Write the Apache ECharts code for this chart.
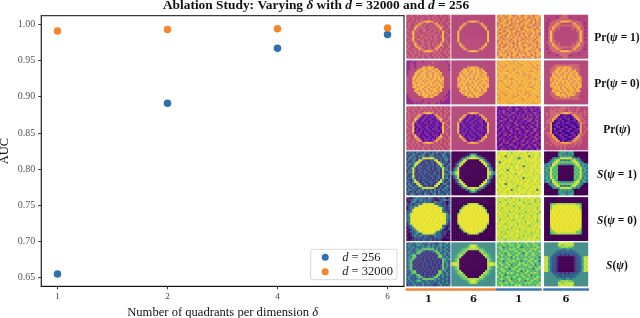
<!DOCTYPE html>
<html>
<head>
<meta charset="utf-8">
<style>html,body{margin:0;padding:0;background:#fff}#c{width:640px;height:318px}</style>
<script src="https://cdn.jsdelivr.net/npm/echarts@6/dist/echarts.min.js"></script>
</head>
<body>
<div id="c"></div>
<script>
const categories = ['1', '2', '4', '6'];
const xPositions = [0, 1, 2, 3];
const d256 = [0.655, 0.891, 0.967, 0.986];
const d32000 = [0.991, 0.993, 0.994, 0.995];
const yTicks = [0.65, 0.70, 0.75, 0.80, 0.85, 0.90, 0.95, 1.00];
const columnLabels = ['1', '6', '1', '6'];
const columnColors = ['#f0853a', '#f0853a', '#3f78b0', '#3f78b0'];

// Each panel: 22 rows of 22 colour levels (0-9).
const prOne = [
 `4454454544544454454445 4545444454454545444545 5445454544454454545444 4454454567887645445445 4544547654544567454454 4544576545445456745445
  4544864554454545685445 5445745455445454574454 4548454455454454548544 4458545444545544548454 5448454554454455458445 4548544545545454458454
  4458455454545455448544 4547544554454454458454 5445754454554545474454 4544864554454545685445 4544576545454456745445 5445447654455467454454
  4544545467887645454545 4454545445454454544545 5445445454544545454454 4545454454454454545445`,
 `4444444444444444444444 4444444444444444444444 4444444444444444444444 4444444467887644444444 4444447644444467444444 4444476444444446744444
  4444864444444444684444 4444744444444444474444 4448444444444444448444 4448444444444444448444 4448444444444444448444 4448444444444444448444
  4448444444444444448444 4448444444444444448444 4444744444444444474444 4444864444444444684444 4444476444444446744444 4444447644444467444444
  4444444467887644444444 4444444444444444444444 4444444444444444444444 4444444444444444444444`,
 `7685768756786587685768 6768578768576786576786 8576867586768576867586 7668758676875768758676 5787668576758687668576 6758785676868576785676
  7867567858675786567858 8576786576785678786576 6785678687567867678687 7568758675867586758675 6876587676758678587676 8657686858676857686858
  7685767587686576767587 5768685768576868685768 6857768657687576768657 7586576867586787576867 8675786758678567786758 6587867685768678867685
  7768576786857687576786 5876768578676758768578 6787857687587867857687 8658678576768576678576`,
 `4444444445554444444444 4444443455554344444444 4434445555555544434444 4444555578887655554444 4345557654444467555434 4445576555555556755444
  4355865544444455685534 4455754544444454575544 4358554444444444558534 4458544444444444458544 4358544444444444458534 4458544444444444458544
  4358544444444444458534 4458554444444444558544 4455754544444454575544 4355865544444455685534 4445576555555556755444 4345557654444467555434
  4444555578887655554444 4434445555555544434444 4444443455554344444444 4444444445554444444444`
];
const prZero = [
 `3334344434444444444434 3343344444444544444444 3344344444454444444443 3344344477687744444444 3344446787687678444443 3444478678767876844444
  3444786787687678684444 3444876878678687764444 4447868778678687867444 4448678687876786878444 4447687867687867686444 4448768786878678767444
  4446878678768786876444 4447867886786768687444 4444687867868786784444 4444876786876787684443 4444478687687867644443 3444447687867687444433
  3444444468768744444343 3344444444444444444433 3334444434444444434333 3333434344434443433333`,
 `4444444444444444444444 4444444444444444444444 4444444444444444444444 4444444476877644444444 4444448768786867444444 4444487867687867844444
  4444768786786876784444 4444876867867867864444 4446787687868786786444 4448678786768678787444 4447686878786876867444 4446878768678768786444
  4448768676878687678444 4446787868687868687444 4444687867867876874444 4444876786876786784444 4444487867687867644444 4444446878768786444444
  4444444476867844444444 4444444444444444444444 4444444444444444444444 4444444444444444444444`,
 `7878777867787787787877 7787887778778878778788 8778678787876787877867 7867787878687878786778 7787878767878787878767 8778767878787787767878
  7878887787678778788778 7787778878878677778878 7878678787787878678787 8787787678878787787678 7768878787787787878787 7877878678787878678787
  8787787787867787787787 7878767878778787767878 7787887787787878887787 8778778878777877778878 7867787878787867787887 7787678778678778678778
  8778787867787887787867 7687878778877687878778 7878777887787778787887 8787877778878787877778`,
 `4444444444444444444444 4444444444444444444444 4444455555555555554444 4444556776877655544444 4445557867867856554444 4445578678768678554444
  4445768786786876854444 4444876867867867864444 4446787687868786786444 4448678786768678787444 4447686878786876867444 4446878768678768786444
  4448768676878687678444 4446787868687868687444 4444687867867876874444 4445876786876786785444 4445578867687867554444 4445558878768786554444
  4444555576867555544444 4444455555555555554444 4444444444444444444444 4444444444444444444444`
];
const prAll = [
 `4544544545445454454544 4545454554545445454454 5445445445454544544545 4544545467887645454454 4545457621322167454544 4544576213212316754545
  4544862132132123685445 5445721231213212374454 4548231213213123128544 4457123121231213217454 5448213212312132138445 4548131221321323128454
  4458221312132122318544 4547123213212312127454 5445723121321232174454 4544862132122123685445 4544576213231316754545 5445457612312367454454
  4545454467887645454545 4454545445454454544545 5445445454544545454454 4545454454454454545445`,
 `4444444444444444444444 4444444444444444444444 4444444444444444444444 4444444467887644444444 4444447612313267444444 4444476213212316744444
  4444862132123123684444 4444721231321232174444 4448231213213123128444 4448123121231213218444 4448213212312132138444 4448131221321323128444
  4448221312132122318444 4447123213212312127444 4444723121321232174444 4444862132122123684444 4444476213231216744444 4444447612312367444444
  4444444467887644444444 4444444444444444444444 4444444444444444444444 4444444444444444444444`,
 `2132314213213241321323 3213142313421323142313 1324213213213142132132 2314231342132132313421 1321324213231413241323 3142132141323214132141
  2213413221321342341322 1342213413213213421341 3213132124132132124132 2141323213413121321341 1323142132213413142132 3214132313421321313421
  2132213412132134213412 1413321323142132142132 3213414213213231321341 2132131324132143132413 1423213213421321321342 3214132143213413214321
  2132341321323124132132 1341213421313421313413 3213132134213213421321 2142313213142132132142`,
 `4444544455545444454444 4445455555545454554444 4445554555445544544454 4545555567887655545454 4545557611221167555454 4445576012312016755444
  4455761230123012675544 4555701213012123075454 4557012312132101237554 4447123012101230127444 4547012301230123017454 5447130123012301237445
  4447021230123012217454 4557123012101231127454 4455701231230123075544 4455760123012312675444 4445576012310126755444 4445557613012367555444
  4544555567777655545444 4445455555554545454444 4444445454545454444444 4444444454544444444444`
];
const sOne = [
 `1323142314231324231423 2314321243123413124312 3143214342134313214321 1432413288888841231432 2314218832113288132341 3123488212312218841321
  1432882121312312884213 2314812312131213284132 3148213121321312328431 1328312312131212318342 1438213123212131218213 3218121312131231218432
  2138312131213212318231 1327213123121312317342 3214812121312123184213 2314882132123212884132 1423188213212128813421 3241328821312188132143
  2314231488888841231432 1432314241323142314231 3213142313214231421323 2143213214321341323142`,
 `0000000000000000000000 0000000003553000000000 0000000235775320000000 0000024588888854200000 0000248800000088420000 0002488000000008842000
  0024880000000000884200 0024800000000000084200 0248000000000000008420 0348000000000000008430 3578000000000000008753 3578000000000000008753
  0348000000000000008430 0248000000000000008420 0024800000000000084200 0024880000000000884200 0002488000000008842000 0000248800000088420000
  0000024588888854200000 0000000235775320000000 0000000003553000000000 0000000000000000000000`,
 `8798978697897986979897 7989879788978798897987 9878397987879897397987 8979878978638789878978 7897989879798978989879 8378979897897879797897
  9789789687978987978978 7898897978979378798979 8979787978988797897978 9787938987879879798798 7898797897989787897989 8979879786897978987878
  9687978979787989797897 7898978978879387879897 8979789798978798978978 7989878787989879878978 8798379879789798798797 9789879798687898979889
  8978798978798789789879 7897989387897987897938 9879878979789897978798 8798979879897878987979`,
 `0000000345434540000000 0000000453434350000000 0000000354545430000000 0000354588888845340000 0003458834343588543000 0034588666666668854300
  3453886544444456883543 4345865000000005685434 3548656000000006568453 4538565000000005658354 3548656000000006568453 4358565000000005658534
  3548656000000006568453 4538656000000006568354 3454865000000005684543 3543886544444456883453 0034588666666668854300 0003458834343588543000
  0000354588888845340000 0000000354545430000000 0000000453434350000000 0000000345434540000000`
];
const sZero = [
 `1102342332143201213201 0123423423232110123423 1024312324232143232101 2131234288898842321302 1232438989898989432213 0243898989899898984212
  1238989998989899893212 2348989898998989894321 2489899898989898989842 3498989989898989898843 2398989898998989899843 3489899898989899898932
  2389898989899898989842 1498989899898989898931 1238989898989899893211 0234898989989898984202 1023489898998989842012 0132348989898984321210
  1012342388988842321201 0013423423231243321100 1001323213212132321011 0011212132123121210000`,
 `0000000000000000000000 0000000000000000000000 0000000000000000000000 0000000068888600000000 0000006898989886000000 0000068989989898600000
  0000689898989898960000 0000798989899898970000 0006898989898989896000 0008989899898989898000 0008989898989898998000 0008998989898998989000
  0008989899898989898000 0006989898989898986000 0000798989899898970000 0000689898989898960000 0000068989989898600000 0000006898989886000000
  0000000068888600000000 0000000000000000000000 0000000000000000000000 0000000000000000000000`,
 `8787978697879878979878 7978687987868797798687 9687979878979687879687 7879868797898778687979 8798787968787987978787 7968979787969878787968
  8787887979878797979878 9878796878797968878796 7987879797868787797868 8797968878979879968878 7878797979878697878979 9687887868797878797968
  8798979787887969887868 7879687979687878978797 8987878879798787687979 7878979687878978878879 8797868797968787979787 7968797878987969878797
  9878687987878797968787 8787979878979687787987 7968878797868797878968 8797687879787878979787`,
 `0000000000000000000000 0000000000000000000000 0000000000000000000000 0005667777777777665000 0006889899898989886000 0006898989899898986000
  0007989898989898987000 0008989899898989898000 0008998989898989898000 0009898989989898989000 0008989898989898989000 0008989989898989898000
  0009898989898989989000 0008989898989898988000 0008989899898989898000 0007989898998989897000 0006889898989898986000 0006688989898988666000
  0005667777777777665000 0000000000000000000000 0000000000000000000000 0000000000000000000000`
];
const sAll = [
 `2342353423242321342353 3423245342342432453423 2434232343453424342342 3242353466666634243423 2432346632122366342342 3424266212121216623424
  2346612121212121663423 3436621212121212663242 2456212112121212126534 3462121212112121216432 2461212121212121216342 3462121121212112126243
  2461212121211212126342 3462121212121212126432 2346612121212121663423 3246621212112121663242 2342366212121216634243 3423246632122366324232
  2423234266666643423242 3242356423423242324232 2324232342342323423242 1323423242323212342323`,
 `4444444444444444444444 4444444447887444444444 4444444567887654444444 4444456677777766544444 4444566700000077654444 4445667000000007665444
  4456770000000000776544 4456700000000000076544 4567000000000000007654 4567000000000000007654 7887000000000000007887 7887000000000000007887
  4567000000000000007654 4567000000000000007654 4456700000000000076544 4456770000000000776544 4445667000000007665444 4444566700000077654444
  4444456677777766544444 4444444567887654444444 4444444447887444444444 4444444444444444444444`,
 `6576567565756576567565 5657656765675657656765 6763656565763565656576 5675657676566756576765 6566765657656675765657 5756376565675367567565
  6576567656756576567656 7565656375656565756563 5676576565765676576565 6563657676563656765763 5765675656576756576565 6576567365675676657365
  7565765657656565765657 5676563676576756563676 6567656565763657656565 5756576765656576576765 6576365656757656736565 7565676576565765656576
  5676567365676567656765 6563657656575636576565 5765765765656576765657 6576565657676565656576`,
 `4444444788787874444444 4444444876878784444444 4444444567676654444444 4444444443344344444444 4444443323233233444444 4444433223222323344444
  4444322212121222234444 8753221000000001223578 7853221000000001223587 8743221000000001223478 7853221000000001223587 8753221000000001223578
  7843221000000001223487 8753221000000001223578 7853221000000001223587 4444322212121222234444 4444433223222323344444 4444443323233233444444
  4444444443344344444444 4444444567676654444444 4444444876878784444444 4444444788787874444444`
];

const mono = 'Liberation Serif, serif';
const panelRows = [prOne, prZero, prAll, sOne, sZero, sAll];
const rowLabels = [
  '{b|Pr(}{bi|ψ}{b| = 1)}', '{b|Pr(}{bi|ψ}{b| = 0)}', '{b|Pr(}{bi|ψ}{b|)}',
  '{bi|S}{b|(}{bi|ψ}{b| = 1)}', '{bi|S}{b|(}{bi|ψ}{b| = 0)}', '{bi|S}{b|(}{bi|ψ}{b|)}'
];
const colLeft = [406.6, 451.6, 497, 544.3];
const rowTop = [15, 60.7, 106.6, 151.7, 197.4, 242.7];
const cellW = 43.6, cellH = 43.4;
const idx = Array.from({length: 22}, (_, i) => i);

const boldRich = {
  b: {fontFamily: 'Liberation Serif', fontWeight: 'bold', fontSize: 11.5, color: '#111'},
  bi: {fontFamily: 'Liberation Serif', fontWeight: 'bold', fontStyle: 'italic', fontSize: 11.5, color: '#111'}
};

const grids = [{left: 41.3, top: 15.7, width: 362.7, height: 270.6, show: true, outerBoundsMode: 'none',
                borderColor: '#3a3a3a', borderWidth: 1.3, backgroundColor: '#fff'}];
const xAxes = [{
  type: 'value', gridIndex: 0, min: -0.147, max: 3.15, splitLine: {show: false},
  name: '{n|Number of quadrants per dimension }{i|δ}', nameLocation: 'middle', nameGap: 20,
  nameTextStyle: {rich: {
    n: {fontFamily: mono, fontSize: 12.6, color: '#111'},
    i: {fontFamily: mono, fontStyle: 'italic', fontSize: 12.6, color: '#111'}}},
  axisLine: {onZero: false, lineStyle: {color: '#111', width: 1}},
  axisTick: {length: 3, lineStyle: {color: '#333'}, customValues: xPositions},
  axisLabel: {customValues: xPositions, formatter: v => categories[v], fontFamily: mono, fontSize: 9, color: '#444', margin: 6}
}];
const yAxes = [{
  type: 'value', gridIndex: 0, min: 0.638, max: 1.012, splitLine: {show: false},
  name: 'AUC', nameLocation: 'middle', nameGap: 30, nameMoveOverlap: false,
  nameTextStyle: {fontFamily: mono, fontSize: 12.5, color: '#111'},
  axisLine: {onZero: false, lineStyle: {color: '#333', width: 1}},
  axisTick: {length: 3, lineStyle: {color: '#333'}, customValues: yTicks},
  axisLabel: {customValues: yTicks, formatter: v => v.toFixed(2), fontFamily: mono, fontSize: 10, color: '#555', margin: 6}
}];
const series = [
  {name: 'd = 256', type: 'scatter', xAxisIndex: 0, yAxisIndex: 0, symbolSize: 7.5,
   itemStyle: {color: '#2f71ad', opacity: 1}, data: xPositions.map((x, i) => [x, d256[i]])},
  {name: 'd = 32000', type: 'scatter', xAxisIndex: 0, yAxisIndex: 0, symbolSize: 7.5,
   itemStyle: {color: '#f5862e', opacity: 1}, data: xPositions.map((x, i) => [x, d32000[i]])}
];
const plasmaIdx = [], viridisIdx = [];
panelRows.forEach((row, r) => row.forEach((panel, c) => {
  const g = grids.length;
  grids.push({left: colLeft[c], top: rowTop[r], width: cellW, height: cellH, outerBoundsMode: 'none'});
  const bottom = r === 5, right = c === 3;
  xAxes.push({
    type: 'category', gridIndex: g, data: idx, show: true,
    axisLine: {show: bottom, onZero: false, lineStyle: {color: columnColors[c], width: 2.5}},
    offset: bottom ? 3 : 0,
    axisTick: {show: false}, axisLabel: {show: false}, splitLine: {show: false},
    name: bottom ? columnLabels[c] : '', nameLocation: 'middle', nameGap: 5,
    nameTextStyle: {fontFamily: 'DejaVu Serif', fontWeight: 'bold', fontSize: 10, color: '#111'}
  });
  yAxes.push({
    type: 'category', gridIndex: g, data: idx, inverse: true, position: 'right', show: true,
    axisLine: {show: false}, axisTick: {show: false}, axisLabel: {show: false}, splitLine: {show: false},
    name: right ? rowLabels[r] : '', nameLocation: 'middle', nameRotate: 0, nameGap: 29,
    nameTextStyle: {align: 'center', padding: [3, 0, 0, 0], rich: boldRich}
  });
  const rows = panel.trim().split(/\s+/);
  const data = [];
  rows.forEach((line, y) => [...line].forEach((ch, x) => data.push([x, y, +ch])));
  (r < 3 ? plasmaIdx : viridisIdx).push(series.length);
  series.push({type: 'heatmap', xAxisIndex: g, yAxisIndex: g, data, progressive: 0, animation: false,
               itemStyle: {borderWidth: 0}, emphasis: {disabled: true}});
}));

const chart = echarts.init(document.getElementById('c'), null, {renderer: 'canvas'});
chart.setOption({
  animation: false,
  backgroundColor: '#fff',
  title: {
    text: '{b|Ablation Study: Varying }{bi|δ}{b| with }{bi|d}{b| = 32000 and }{bi|d}{b| = 256}',
    left: 316, top: -1, textAlign: 'center', padding: 0,
    textStyle: {rich: {
      b: {fontFamily: mono, fontWeight: 'bold', fontSize: 13.4, color: '#111'},
      bi: {fontFamily: mono, fontWeight: 'bold', fontStyle: 'italic', fontSize: 13.4, color: '#111'}}}
  },
  legend: {
    data: ['d = 256', 'd = 32000'], left: 310.7, top: 249.3, orient: 'vertical', padding: [1.5, 4, 1.5, 11],
    itemWidth: 24, itemHeight: 7, itemGap: 1.4, icon: 'circle',
    backgroundColor: '#fff', borderColor: '#d8d8d8', borderWidth: 1, borderRadius: 2,
    formatter: n => '{i|d}{t|' + n.slice(1) + '}',
    textStyle: {rich: {
      i: {fontFamily: mono, fontStyle: 'italic', fontSize: 12.5, color: '#222', lineHeight: 13},
      t: {fontFamily: mono, fontSize: 12.5, color: '#222', lineHeight: 13}}}
  },
  tooltip: {show: false},
  visualMap: [
    {show: false, type: 'continuous', min: 0, max: 9, seriesIndex: plasmaIdx, dimension: 2,
     inRange: {color: ['#2a0a8e', '#4f0a9e', '#6f1da3', '#93298f', '#b5487a', '#cf6570', '#e4875f', '#f0a545', '#f6c042', '#f8e040']}},
    {show: false, type: 'continuous', min: 0, max: 9, seriesIndex: viridisIdx, dimension: 2,
     inRange: {color: ['#440154', '#472d7b', '#3b528b', '#2c728e', '#46908b', '#3fae80', '#6ec962', '#addc50', '#d8e238', '#f5e52f']}}
  ],
  grid: grids, xAxis: xAxes, yAxis: yAxes, series
});
</script>
</body>
</html>
